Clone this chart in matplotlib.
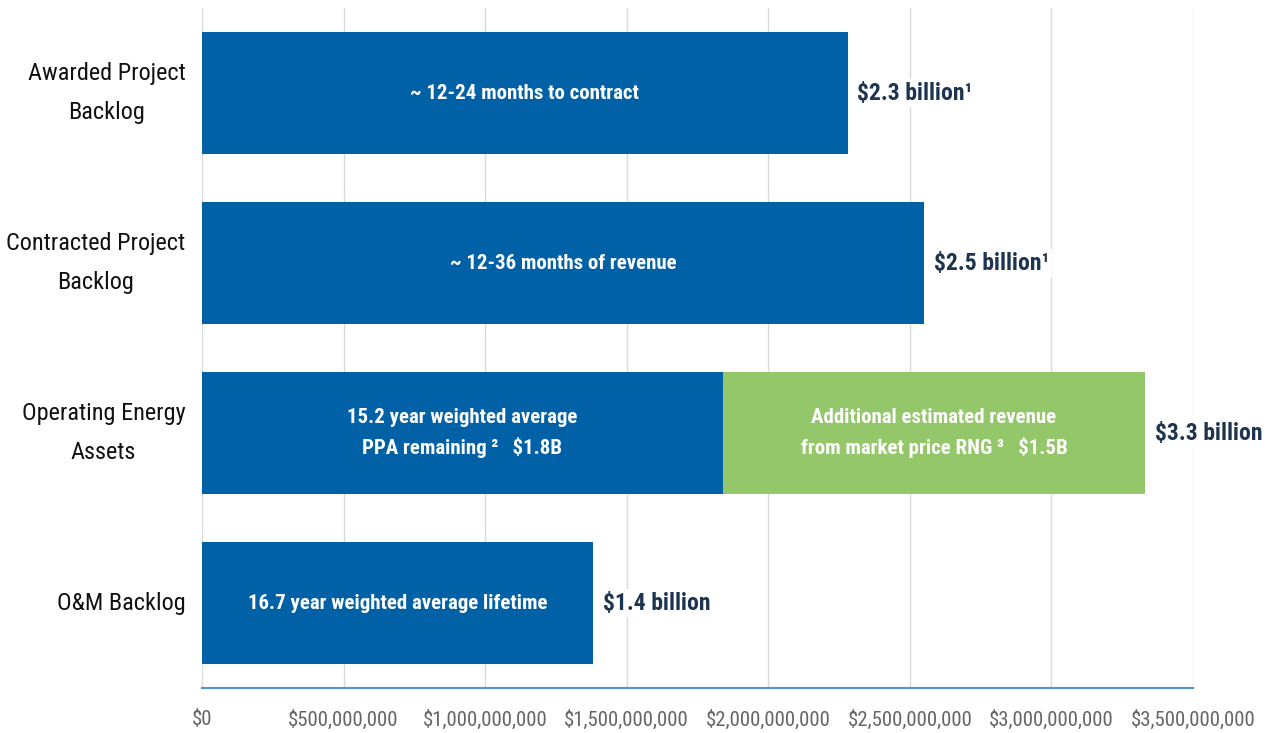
import matplotlib.pyplot as plt
from matplotlib.ticker import FuncFormatter

plt.rcParams['font.family'] = ['Roboto Condensed', 'Archivo Narrow', 'DejaVu Sans']

categories = ['Awarded Project\nBacklog', 'Contracted Project\nBacklog',
              'Operating Energy\nAssets', 'O&M Backlog']
base_vals = [2.28e9, 2.55e9, 1.84e9, 1.38e9]
extra_vals = [0, 0, 1.49e9, 0]
inner_text = ['~ 12-24 months to contract', '~ 12-36 months of revenue',
              '15.2 year weighted average\nPPA remaining \u00b2   $1.8B',
              '16.7 year weighted average lifetime']
extra_text = ['', '', 'Additional estimated revenue\nfrom market price RNG \u00b3   $1.5B', '']
total_text = ['$2.3 billion\u00b9', '$2.5 billion\u00b9', '$3.3 billion', '$1.4 billion']
ticks = [0, 5e8, 1e9, 1.5e9, 2e9, 2.5e9, 3e9, 3.5e9]

blue = '#0061a6'
green = '#93c769'
navy = '#1d3550'

fig = plt.figure(figsize=(12.75, 7.33), dpi=100)
ax = fig.add_axes([0.1584, 0.0614, 0.7773, 0.9276])

y = list(range(len(categories)))
ax.barh(y, base_vals, height=0.72, color=blue, zorder=2)
ax.barh(y, extra_vals, left=base_vals, height=0.72, color=green, zorder=2)

for i in y:
    ax.text(base_vals[i] / 2, i, inner_text[i], color='white', fontsize=15,
            fontweight='bold', ha='center', va='center', zorder=3, linespacing=1.6)
    if extra_vals[i] > 0:
        ax.text(base_vals[i] + extra_vals[i] / 2, i, extra_text[i], color='white',
                fontsize=15, fontweight='bold', ha='center', va='center', zorder=3,
                linespacing=1.6)
    end = base_vals[i] + extra_vals[i]
    ax.text(end + 0.035e9, i, total_text[i], color=navy, fontsize=17, fontweight='bold',
            ha='left', va='center', zorder=3,
            bbox=dict(facecolor='white', edgecolor='none', pad=2))

ax.set_xlim(0, 3.5e9)
ax.set_ylim(3.5, -0.5)
ax.set_xticks(ticks)
ax.xaxis.set_major_formatter(FuncFormatter(lambda v, p: '${:,.0f}'.format(v)))
ax.set_yticks(y)
ax.set_yticklabels(categories, fontsize=17.5, color='#111111')
for lab in ax.get_yticklabels():
    lab.set_multialignment('center')
    lab.set_linespacing(1.85)
    lab.set_verticalalignment('center')
ax.tick_params(axis='x', labelsize=15, colors='#666666', length=0, pad=16)
ax.tick_params(axis='y', length=0, pad=12)
ax.grid(axis='x', color='#d9d9d9', linewidth=1, zorder=0)
for s in ['top', 'right', 'left']:
    ax.spines[s].set_visible(False)
ax.spines['bottom'].set_color('#4f95cf')
ax.spines['bottom'].set_linewidth(1.5)

fig.savefig('out.png', dpi=100)
